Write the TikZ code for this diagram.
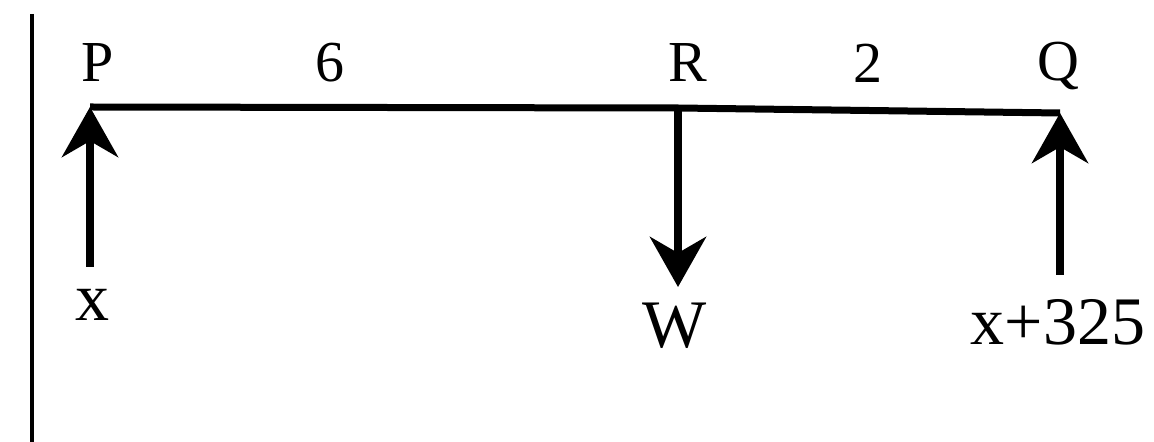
\documentclass[tikz,border=0pt]{standalone}
\usepackage{fontspec}
\setmainfont{Liberation Serif}
\usetikzlibrary{arrows.meta}
\begin{document}
\begin{tikzpicture}[x=0.5pt,y=-0.5pt,
  beam/.style={line width=3.5pt},
  force/.style={line width=4pt,-{Stealth[length=25pt,width=28pt,inset=8pt]}},
  toplbl/.style={inner sep=0pt,font=\fontsize{29}{34}\selectfont},
  botlbl/.style={inner sep=0pt,font=\fontsize{34}{40}\selectfont}]
\useasboundingbox (0,0) rectangle (1154,442);
% wall line
\coordinate (w1) at (32,14);
\coordinate (w2) at (32,442);
\draw[line width=1.6pt] (w1) -- (w2);
% beam points
\coordinate (P) at (90,107);
\coordinate (R) at (678,108);
\coordinate (Q) at (1060,113);
\draw[beam] (P) -- (R) -- (Q);
% force tails
\coordinate (Pt) at (90,267);
\coordinate (Rt) at (678,287);
\coordinate (Qt) at (1060,275);
\draw[force] (Pt) -- (P);
\draw[force] (R) -- (Rt);
\draw[force] (Qt) -- (Q);
% labels
\node[toplbl] (lP) at (98,63) {P};
\node[toplbl] (l6) at (330,63) {6};
\node[toplbl] (lR) at (688,63) {R};
\node[toplbl] (l2) at (868,63) {2};
\node[toplbl] (lQ) at (1058,66) {Q};
\node[botlbl] (lx) at (92,305) {x};
\node[botlbl] (lW) at (675,326) {W};
\node[botlbl] (lx325) at (1058,322) {x+325};
\end{tikzpicture}
\end{document}
